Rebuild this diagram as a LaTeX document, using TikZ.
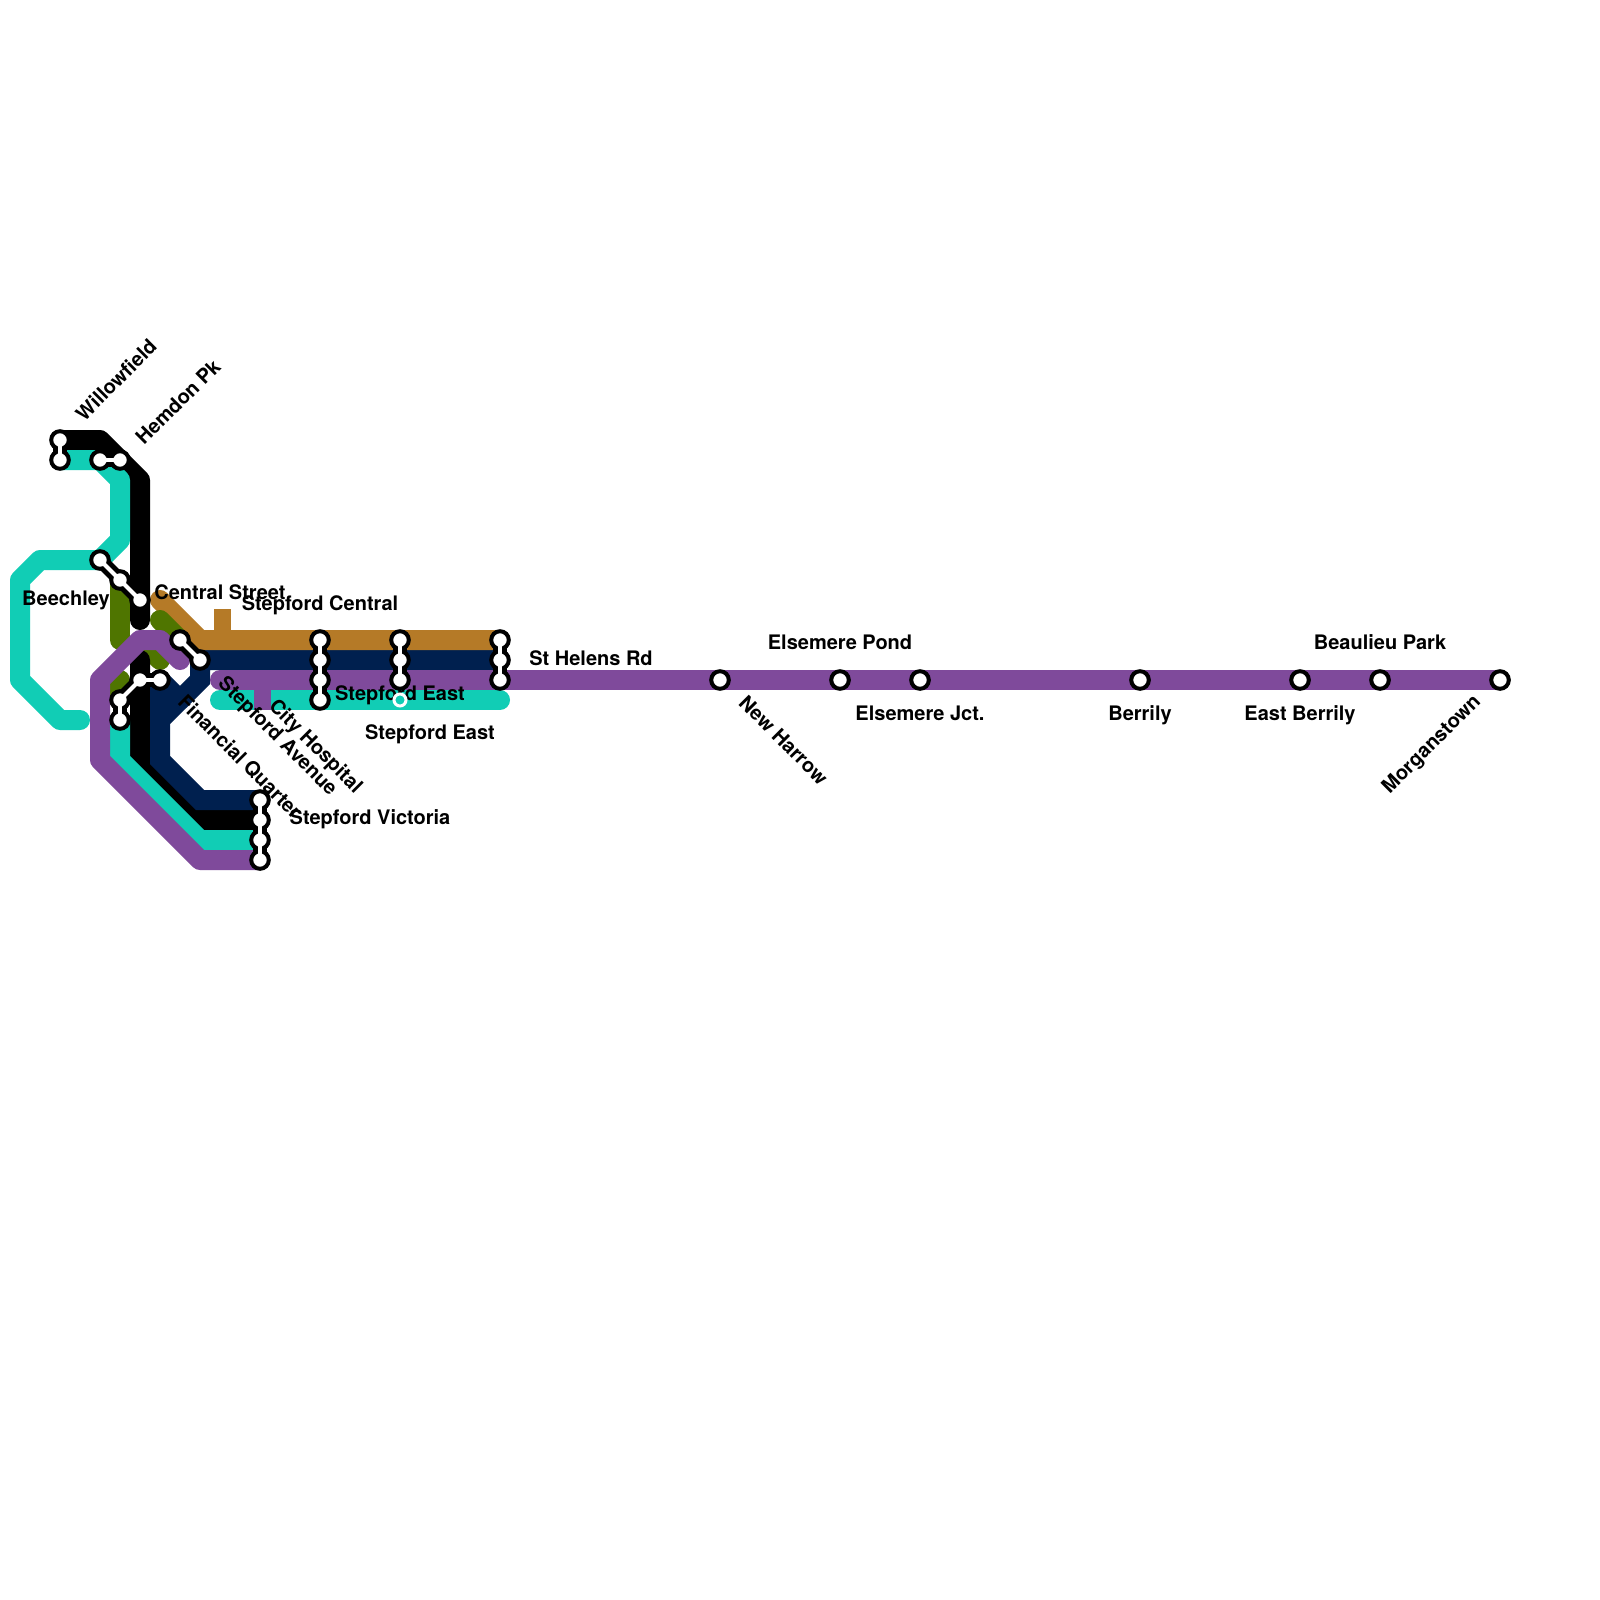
\documentclass[tikz,border=0pt]{standalone}
\usepackage{fontspec}
\setmainfont{TeX Gyre Heros}
\definecolor{tealc}{HTML}{11CDB5}
\definecolor{navyc}{HTML}{00204F}
\definecolor{purplec}{HTML}{7F4A9B}
\definecolor{brownc}{HTML}{B57A27}
\definecolor{olivec}{HTML}{4F7500}
\pgfdeclarelayer{routes}
\pgfdeclarelayer{labels}
\pgfdeclarelayer{links}
\pgfdeclarelayer{whitelinks}
\pgfsetlayers{routes,labels,links,main,whitelinks}
\tikzset{
  route/.style={line width=10pt,line cap=round,line join=round,draw=#1},
  stub/.style={line width=8.5pt,line cap=butt,draw=#1},
  stn/.style={circle,draw=black,fill=white,line width=2pt,minimum size=8.8pt,inner sep=0pt,outer sep=0pt},
  minor/.style={circle,draw=white,fill=tealc,line width=1.5pt,minimum size=6pt,inner sep=0pt,outer sep=0pt},
  lab/.style={font=\bfseries\fontsize{10pt}{11pt}\selectfont,text=black,inner sep=0pt},
  linkb/.style={draw=black,line width=7pt},
  linkw/.style={draw=white,line width=2pt},
}
\begin{document}
\begin{tikzpicture}[x=0.5pt,y=-0.5pt]
\useasboundingbox (0,0) rectangle (1600,1600);
% stations
\foreach \n/\x/\y in {wa/60/440,wb/60/460,ha/100/460,hb/120/460,ba/100/560,bb/120/580,bc/140/600,
  ca/180/640,cb/200/660,qa/140/680,qb/160/680,qc/120/700,qd/120/720,
  sa/320/640,sb/320/660,sc/320/680,sd/320/700,ea/400/640,eb/400/660,ec/400/680,
  ra/500/640,rb/500/660,rc/500/680,va/260/800,vb/260/820,vc/260/840,vd/260/860,
  nh/720/680,ep/840/680,ej/920/680,be/1140/680,eb2/1300/680,bp/1380/680,mo/1500/680}
  {\node[stn] (\n) at (\x,\y) {};}
\node[minor] (ed) at (400,700) {};
% routes
\begin{pgfonlayer}{routes}
\fill[white] (0,0) rectangle (1600,1600);
\coordinate (o1) at (120,640);
\coordinate (o4) at (160,660);
\coordinate (o5) at (150,650);
\draw[route=olivec] (bb.center) -- (o1);
\draw[route=olivec] (o4) -- (o5);
\coordinate (o6) at (120,680);
\draw[route=olivec] (qc.center) -- (o6);
% black
\coordinate (k1) at (100,440);\coordinate (k2) at (140,480);\coordinate (k3) at (140,620);
\draw[route=black] (wa.center) -- (k1) -- (k2) -- (k3);
\coordinate (k4) at (140,660);\coordinate (k5) at (140,760);\coordinate (k6) at (200,820);
\draw[route=black] (k4) -- (k5) -- (k6) -- (vb.center);
% navy
\coordinate (n1) at (200,680);\coordinate (n2) at (160,720);\coordinate (n3) at (160,760);\coordinate (n4) at (200,800);\coordinate (n5) at (180,700);
\draw[route=navyc,line cap=butt,line join=miter] (rb.center) -- (cb.center) -- (n1) -- (n2) -- (n3) -- (n4) -- (va.center);
\draw[route=navyc] (qb.center) -- (n2);
\draw[route=navyc] (qb.center) -- (n5);
% teal
\coordinate (t1) at (120,480);\coordinate (t2) at (120,540);\coordinate (t3) at (40,560);
\coordinate (t4) at (20,580);\coordinate (t5) at (20,680);\coordinate (t6) at (60,720);\coordinate (t7) at (80,720);
\draw[route=tealc] (wb.center) -- (ha.center) -- (t1) -- (t2) -- (ba.center) -- (t3) -- (t4) -- (t5) -- (t6) -- (t7);
\coordinate (t8) at (220,700);\coordinate (t11) at (500,700);
\draw[route=tealc] (t8) -- (t11);
\coordinate (t9) at (120,760);\coordinate (t10) at (200,840);
\draw[route=tealc,line cap=butt] (qd.center) -- (t9) -- (t10) -- (vc.center);
% brown
\coordinate (b1) at (160,600);\coordinate (b2) at (200,640);
\draw[route=brownc] (b1) -- (b2) -- (ra.center);
\coordinate (b3) at (222.5,609);\coordinate (b4) at (222.5,640);
\draw[stub=brownc] (b3) -- (b4);
% olive branch lying over the brown line
\coordinate (o2) at (160,620);
\coordinate (o3) at (180,640);
\draw[route=olivec] (o2) -- (o3);
% purple
\coordinate (p0) at (220,680);
\draw[route=purplec] (p0) -- (mo.center);
\coordinate (p1) at (180,660);\coordinate (p2) at (160,640);\coordinate (p3) at (140,640);\coordinate (p4) at (100,680);
\coordinate (p5) at (100,760);\coordinate (p6) at (200,860);
\draw[route=purplec] (p1) -- (p2) -- (p3) -- (p4) -- (p5) -- (p6) -- (vd.center);
\coordinate (p7) at (262.5,680);\coordinate (p8) at (262.5,710);
\draw[stub=purplec] (p7) -- (p8);
\end{pgfonlayer}
% labels
\begin{pgfonlayer}{labels}
\node[lab,rotate=45] (lwi) at (116,380) {Willowfield};
\node[lab,rotate=45] (lhe) at (178,402) {Hemdon Pk};
\node[lab] (lbe) at (66,600) {Beechley};
\node[lab] (lcs) at (220,592) {Central Street};
\node[lab] (lsc) at (320,605) {Stepford Central};
\node[lab] (lse) at (400,695) {Stepford East};
\node[lab] (lsf) at (430,734.5) {Stepford East};
\node[lab] (lsh) at (591,658) {St Helens Rd};
\node[lab] (lep) at (840,642.5) {Elsemere Pond};
\node[lab] (lej) at (920,713) {Elsemere Jct.};
\node[lab] (lbr) at (1140,715) {Berrily};
\node[lab] (lbe2) at (1300,715) {East Berrily};
\node[lab] (lbp) at (1380,642.5) {Beaulieu Park};
\node[lab] (lsv) at (370,819) {Stepford Victoria};
\node[lab,rotate=-45] (lnh) at (783.5,740) {New Harrow};
\node[lab,rotate=45] (lmo) at (1432,745) {Morganstown};
\node[lab,rotate=-45] (lfq) at (240,757) {Financial Quarter};
\node[lab,rotate=-45] (lsa) at (277,737) {Stepford Avenue};
\node[lab,rotate=-45] (lch) at (315,747) {City Hospital};
\end{pgfonlayer}
% interchange links
\foreach \a/\b in {wa/wb,ha/hb,ba/bb,bb/bc,ca/cb,qa/qb,qa/qc,qc/qd,sa/sb,sb/sc,sc/sd,ea/eb,eb/ec,ra/rb,rb/rc,va/vb,vb/vc,vc/vd}{
  \begin{pgfonlayer}{links}\draw[linkb] (\a.center) -- (\b.center);\end{pgfonlayer}
  \begin{pgfonlayer}{whitelinks}\draw[linkw] (\a.center) -- (\b.center);\end{pgfonlayer}
}
\end{tikzpicture}
\end{document}
